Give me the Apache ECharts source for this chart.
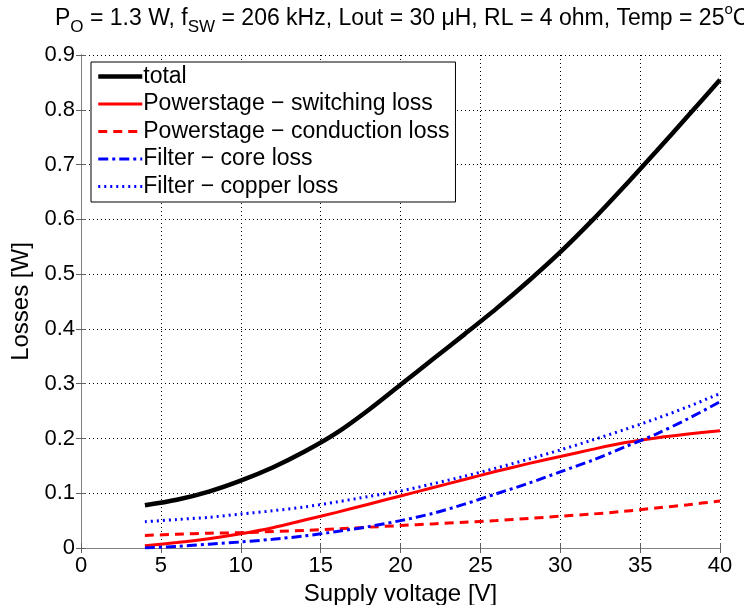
<!DOCTYPE html>
<html>
<head>
<meta charset="utf-8">
<script src="https://cdn.jsdelivr.net/npm/echarts@6/dist/echarts.min.js"></script>
<style>html,body{margin:0;padding:0;background:#fff}#c{width:744px;height:605px}</style>
</head>
<body>
<div id="c"></div>
<script>
const voltage = [4, 6, 8, 10, 12, 14, 16, 18, 20, 22, 24, 26, 28, 30, 32, 34, 36, 38, 40];
const total = [0.078, 0.088, 0.103, 0.123, 0.147, 0.176, 0.210, 0.252, 0.298, 0.344, 0.390, 0.437, 0.487, 0.540, 0.598, 0.660, 0.724, 0.789, 0.855];
const switchingLoss = [0.004, 0.010, 0.017, 0.026, 0.037, 0.051, 0.065, 0.080, 0.095, 0.110, 0.125, 0.140, 0.154, 0.167, 0.180, 0.192, 0.201, 0.208, 0.214];
const conductionLoss = [0.023, 0.025, 0.027, 0.028, 0.030, 0.032, 0.035, 0.038, 0.041, 0.044, 0.047, 0.050, 0.054, 0.058, 0.062, 0.067, 0.073, 0.079, 0.086];
const coreLoss = [0.000, 0.003, 0.007, 0.011, 0.016, 0.022, 0.030, 0.039, 0.050, 0.063, 0.080, 0.099, 0.118, 0.139, 0.160, 0.184, 0.208, 0.236, 0.267];
const copperLoss = [0.048, 0.052, 0.056, 0.062, 0.068, 0.075, 0.084, 0.094, 0.104, 0.117, 0.131, 0.146, 0.162, 0.179, 0.197, 0.216, 0.236, 0.258, 0.282];
const seriesNames = ['total', 'Powerstage \u2212 switching loss', 'Powerstage \u2212 conduction loss', 'Filter \u2212 core loss', 'Filter \u2212 copper loss'];

const pairs = arr => voltage.map((v, i) => [v, arr[i]]);
const font = 'Liberation Sans, Arial, sans-serif';

const styles = [
  { color: '#000000', width: 4.5, type: 'solid' },
  { color: '#ff0000', width: 3, type: 'solid' },
  { color: '#ff0000', width: 3, type: [9, 6] },
  { color: '#0000ff', width: 3, type: [10, 4, 3, 4] },
  { color: '#0000ff', width: 3, type: [2, 4] }
];
const seriesData = [total, switchingLoss, conductionLoss, coreLoss, copperLoss];

const chart = echarts.init(document.getElementById('c'));
const baseAxis = {
  type: 'value',
  axisLine: { show: true, lineStyle: { color: '#808080', width: 1 } },
  axisTick: { show: true, inside: true, length: 5, lineStyle: { color: '#606060' } },
};
chart.setOption({
  animation: false,
  backgroundColor: '#fff',
  title: {
    text: 'P{sub|O} = 1.3 W, f{sub|SW} = 206 kHz, Lout = 30 \u03bcH, RL = 4 ohm, Temp = 25{sup|o}C',
    left: 50, top: -3,
    textStyle: {
      fontFamily: font, fontSize: 23, fontWeight: 'normal', color: '#000', lineHeight: 34,
      rich: {
        sub: { fontFamily: font, fontSize: 17, lineHeight: 13, verticalAlign: 'bottom', color: '#000' },
        sup: { fontFamily: font, fontSize: 15, lineHeight: 16, verticalAlign: 'top', color: '#000' }
      }
    }
  },
  grid: { left: 81, right: 24, top: 55, bottom: 57, containLabel: false, outerBoundsMode: 'none' },
  legend: {
    orient: 'vertical', left: 91, top: 62,
    backgroundColor: '#fff', borderColor: '#000', borderWidth: 1,
    padding: [3, 6, 4, 5],
    itemWidth: 44, itemHeight: 14, itemGap: 4.5,
    itemStyle: { opacity: 0 },
    textStyle: { fontFamily: font, fontSize: 23, color: '#000', padding: [0, 0, 0, -4] },
    data: seriesNames.map((n, i) => ({ name: n, lineStyle: { color: styles[i].color, width: styles[i].width, type: styles[i].type } }))
  },
  xAxis: [
    Object.assign({}, baseAxis, {
      min: 0, max: 40, interval: 5, position: 'bottom',
      name: 'Supply voltage [V]', nameLocation: 'middle', nameGap: 25,
      nameTextStyle: { fontFamily: font, fontSize: 24, color: '#000' },
      axisLabel: { fontFamily: font, fontSize: 22, color: '#000', margin: 7 },
      splitLine: { show: true, lineStyle: { color: '#000', type: [1, 3], width: 1 } }
    }),
    Object.assign({}, baseAxis, {
      min: 0, max: 40, interval: 5, position: 'top',
      axisLabel: { show: false }, splitLine: { show: false }
    })
  ],
  yAxis: [
    Object.assign({}, baseAxis, {
      min: 0, max: 0.9, interval: 0.1, position: 'left',
      name: 'Losses [W]', nameLocation: 'middle', nameGap: 35,
      nameTextStyle: { fontFamily: font, fontSize: 24, color: '#000' },
      axisLabel: { fontFamily: font, fontSize: 22, color: '#000', margin: 6, formatter: v => (Math.round(v * 10) / 10).toString() },
      splitLine: { show: true, lineStyle: { color: '#000', type: [1, 3], width: 1 } }
    }),
    Object.assign({}, baseAxis, {
      min: 0, max: 0.9, interval: 0.1, position: 'right',
      axisLabel: { show: false }, splitLine: { show: false }
    })
  ],
  series: seriesNames.map((n, i) => ({
    name: n, type: 'line', data: pairs(seriesData[i]), smooth: 0.3, showSymbol: false, symbol: 'none',
    lineStyle: { color: styles[i].color, width: styles[i].width, type: styles[i].type },
    itemStyle: { color: styles[i].color }
  }))
});
</script>
</body>
</html>
